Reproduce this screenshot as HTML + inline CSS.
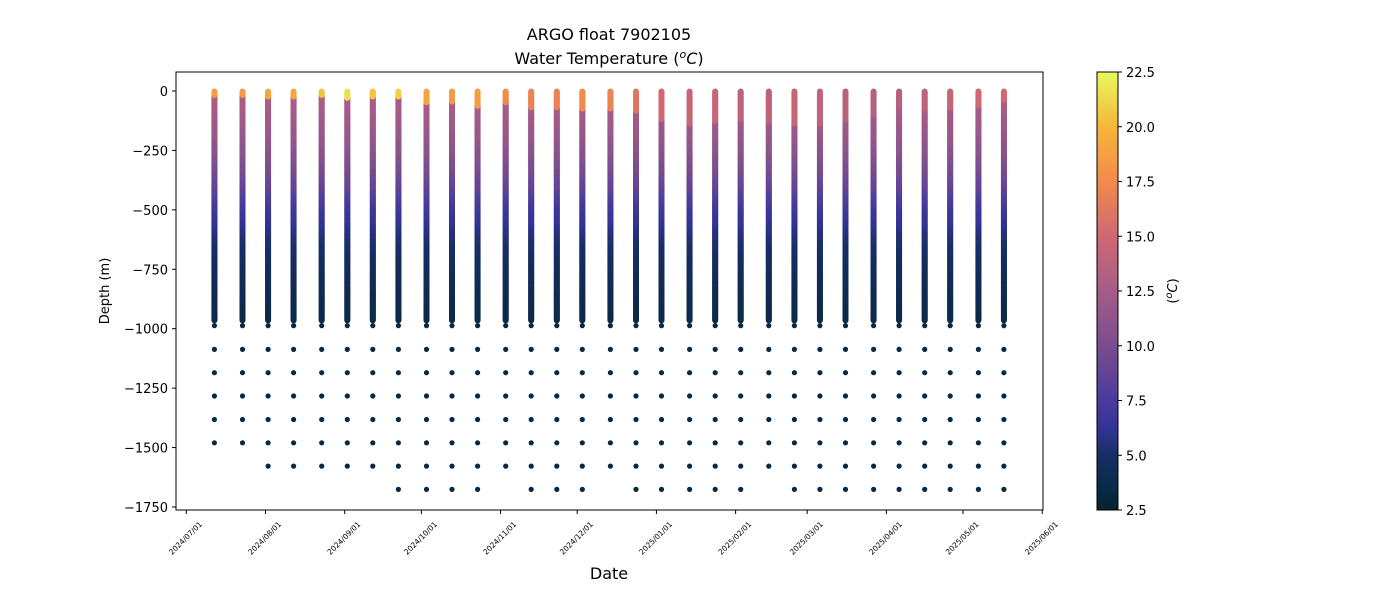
<!DOCTYPE html>
<html><head><meta charset="utf-8"><style>
html,body{margin:0;padding:0;background:#fff;}
svg{display:block;font-family:"DejaVu Sans","Liberation Sans",sans-serif;}
</style></head><body>
<svg id="chart" width="1400" height="600" xmlns="http://www.w3.org/2000/svg">
<defs><linearGradient id="cbg" x1="0" y1="1" x2="0" y2="0"></linearGradient></defs>
<text x="609" y="40" font-size="16" text-anchor="middle">ARGO float 7902105</text>
<text x="609" y="64" font-size="16" text-anchor="middle">Water Temperature (<tspan font-style="italic" font-size="11" dy="-6">o</tspan><tspan font-style="italic" dy="6">C</tspan>)</text>
<g id="plot"></g>
<rect x="176" y="72" width="867" height="438" fill="none" stroke="#000" stroke-width="1"/>
<g id="yaxis"></g>
<g id="xaxis"></g>
<text transform="translate(109,291) rotate(-90)" font-size="13" text-anchor="middle">Depth (m)</text>
<text x="609" y="579" font-size="16" text-anchor="middle">Date</text>
<rect x="1097" y="72" width="21" height="438" fill="url(#cbg)"/>
<rect x="1097" y="72" width="21" height="438" fill="none" stroke="#000" stroke-width="1"/>
<g id="cbaxis"></g>
<text transform="translate(1177,291) rotate(-90)" font-size="13" text-anchor="middle">(<tspan font-style="italic" font-size="10" dy="-5">o</tspan><tspan font-style="italic" dy="5">C</tspan>)</text>
</svg>
<script>
// ---- data ----
const profileDays = [11,22,32,42,53,63,73,83,94,104,114,125,135,145,155,166,176,186,197,207,217,228,238,248,258,269,279,289,299,310,320];
const surfaceTemp = [18.5,18.5,19,19,20.5,21.5,20.5,21,19,18.5,18.5,17.5,17,17,17.5,17,16,15,14.5,14.5,14,14,14.5,14,13.8,13.5,13.5,14,14.5,15,15];
const mixedLayerDepth = [20,20,25,25,20,30,25,25,50,45,65,50,70,70,75,75,85,120,140,130,120,130,140,140,120,100,60,80,70,60,40];
const maxDepth = [1480,1480,1580,1580,1580,1580,1580,1680,1680,1680,1680,1580,1680,1680,1680,1580,1680,1680,1680,1680,1680,1580,1680,1680,1680,1680,1680,1680,1680,1680,1680];
const bgDepths = [0,100,200,300,400,500,600,700,800,900,980];
const bgTemps = [13.0,12.3,11.5,10.3,8.7,6.8,5.5,4.7,4.2,3.8,3.6];
const deepDepths = [987,1087,1185,1283,1382,1480,1578,1676];
const deepTemp = 3.3;
const yTicks = [0,-250,-500,-750,-1000,-1250,-1500,-1750];
const xTickDays = [0,31,62,92,123,153,184,215,243,274,304,335];
const xTickLabels = ["2024/07/01","2024/08/01","2024/09/01","2024/10/01","2024/11/01","2024/12/01","2025/01/01","2025/02/01","2025/03/01","2025/04/01","2025/05/01","2025/06/01"];
const cbTicks = [2.5,5.0,7.5,10.0,12.5,15.0,17.5,20.0,22.5];

// ---- scales ----
const NS="http://www.w3.org/2000/svg";
function xs(day){return 186.3 + day*2.555;}
function ys(depth){return 91 + depth*0.2377;}
function cs(t){return 510 - (t-2.5)/20*438;}
const cmapV=[2.5,3.5,5.0,6.2,7.5,10,12.5,15,17.5,20,22.5];
const cmapC=[[4,35,46],[10,42,72],[23,46,100],[50,52,150],[74,58,158],[122,77,142],[166,92,136],[207,104,115],[242,138,76],[245,182,58],[232,250,91]];
function cmap(t){
  if(t<=cmapV[0])return rgb(cmapC[0]);
  for(let i=1;i<cmapV.length;i++){if(t<=cmapV[i]){const f=(t-cmapV[i-1])/(cmapV[i]-cmapV[i-1]);const a=cmapC[i-1],b=cmapC[i];return rgb([a[0]+(b[0]-a[0])*f,a[1]+(b[1]-a[1])*f,a[2]+(b[2]-a[2])*f]);}}
  return rgb(cmapC[cmapC.length-1]);
}
function rgb(c){return "rgb("+Math.round(c[0])+","+Math.round(c[1])+","+Math.round(c[2])+")";}
function bg(d){for(let i=1;i<bgDepths.length;i++){if(d<=bgDepths[i]){const f=(d-bgDepths[i-1])/(bgDepths[i]-bgDepths[i-1]);return bgTemps[i-1]+(bgTemps[i]-bgTemps[i-1])*f;}}return bgTemps[bgTemps.length-1];}
function mk(tag,attrs,parent){const e=document.createElementNS(NS,tag);for(const k in attrs)e.setAttribute(k,attrs[k]);parent.appendChild(e);return e;}

const grad=document.getElementById('cbg');
for(let i=0;i<cmapV.length;i++){mk('stop',{offset:((cmapV[i]-2.5)/20),'stop-color':cmap(cmapV[i])},grad);}

const plot=document.getElementById('plot');
profileDays.forEach((day,p)=>{
  const g=mk('g',{},plot);
  
  
  const x=xs(day);
  for(let d=965; d>=0; d-=3){
    let t = d<mixedLayerDepth[p] ? surfaceTemp[p] : Math.min(bg(d), surfaceTemp[p]);
    mk('circle',{cx:x.toFixed(1),cy:ys(d).toFixed(1),r:3,fill:cmap(t)},g);
  }
  deepDepths.forEach(dd=>{
    if(dd<=maxDepth[p]+5){
      const c=mk('circle',{cx:x.toFixed(1),cy:ys(dd).toFixed(1),r:2.6,fill:cmap(deepTemp)},g);
      
      
    }
  });
});

const ya=document.getElementById('yaxis');
yTicks.forEach(v=>{
  const y=ys(-v);
  mk('line',{x1:172,x2:176,y1:y,y2:y,stroke:'#000'},ya);
  const t=mk('text',{x:168,y:y+5,'font-size':13,'text-anchor':'end'},ya);
  
  
  t.textContent = v<0 ? '\u2212'+(-v) : String(v);
});
const xa=document.getElementById('xaxis');
xTickDays.forEach((d,i)=>{
  const x=xs(d);
  mk('line',{x1:x,x2:x,y1:510,y2:514,stroke:'#000'},xa);
  const t=mk('text',{transform:'translate('+(x+1)+',540) rotate(-45)','font-size':7.5,'text-anchor':'middle'},xa);
  
  
  t.textContent=xTickLabels[i];
});
const ca=document.getElementById('cbaxis');
cbTicks.forEach(v=>{
  const y=cs(v);
  mk('line',{x1:1118,x2:1122,y1:y,y2:y,stroke:'#000'},ca);
  const t=mk('text',{x:1126,y:y+5,'font-size':13},ca);
  
  
  t.textContent=v.toFixed(1);
});
</script>
</body></html>
